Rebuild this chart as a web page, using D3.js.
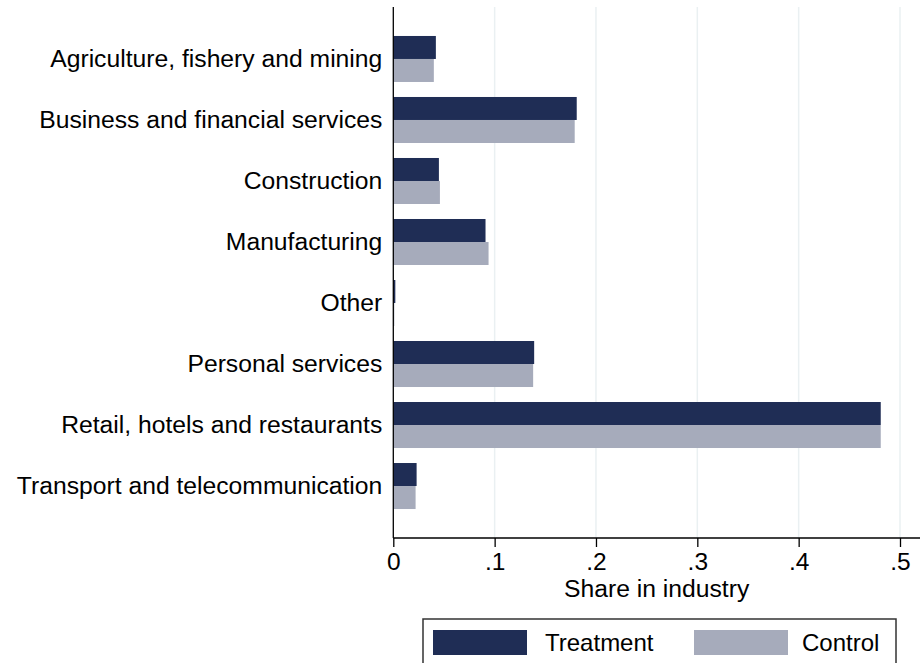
<!DOCTYPE html>
<html>
<head>
<meta charset="utf-8">
<script src="https://cdn.jsdelivr.net/npm/d3@7"></script>
<style>
  body { margin: 0; background: #fff; }
  svg { display: block; font-family: "Liberation Sans", Arial, sans-serif; }
</style>
</head>
<body>
<div id="chart"></div>
<script>
/* Daten */
var categories = ["Agriculture, fishery and mining", "Business and financial services", "Construction",
  "Manufacturing", "Other", "Personal services", "Retail, hotels and restaurants", "Transport and telecommunication"];
var seriesNames = ["Treatment", "Control"];
var treatment = [0.042, 0.181, 0.045, 0.091, 0.002, 0.139, 0.481, 0.023];
var control   = [0.040, 0.179, 0.046, 0.094, 0.001, 0.138, 0.481, 0.022];
var xTicks = [0, 0.1, 0.2, 0.3, 0.4, 0.5];

var colors = {"Treatment": "#1f2d55", "Control": "#a6abbb"};
var width = 920, height = 663;
var plot = {left: 393.3, right: 920, top: 7, bottom: 538};

var svg = d3.select("#chart").append("svg").attr("width", width).attr("height", height);
svg.append("rect").attr("width", width).attr("height", height).attr("fill", "#fff");

var x = d3.scaleLinear().domain([0, 0.5]).range([plot.left, 900]);
var y = d3.scaleBand().domain(categories).range([plot.top, plot.bottom]).paddingInner(15 / 61).paddingOuter(0.475);
var ySub = d3.scaleBand().domain(seriesNames).range([0, y.bandwidth()]);

/* Gitterlinien */
svg.append("g").selectAll("line").data(xTicks.slice(1)).enter().append("line")
  .attr("x1", function(d) { return x(d); }).attr("x2", function(d) { return x(d); })
  .attr("y1", plot.top).attr("y2", plot.bottom)
  .attr("stroke", "#eaf0f2").attr("stroke-width", 1.5);

/* Balken */
var rows = categories.map(function(c, i) { return {cat: c, Treatment: treatment[i], Control: control[i]}; });
var groups = svg.append("g").selectAll("g").data(rows).enter().append("g")
  .attr("transform", function(d) { return "translate(0," + y(d.cat) + ")"; });
groups.selectAll("rect").data(function(d) { return seriesNames.map(function(s) { return {s: s, v: d[s]}; }); })
  .enter().append("rect")
  .attr("x", x(0))
  .attr("y", function(d) { return ySub(d.s); })
  .attr("width", function(d) { return x(d.v) - x(0); })
  .attr("height", ySub.bandwidth())
  .attr("fill", function(d) { return colors[d.s]; });

/* Achsen */
var xAxis = d3.axisBottom(x).tickValues(xTicks).tickSize(9).tickPadding(6)
  .tickFormat(function(d) { return d === 0 ? "0" : d3.format(".1f")(d).replace(/^0/, ""); });
var gx = svg.append("g").attr("transform", "translate(0," + plot.bottom + ")").call(xAxis);
gx.select(".domain").remove();
gx.selectAll(".tick line").attr("stroke", "#000").attr("stroke-width", 1.3);
gx.selectAll(".tick text").attr("font-size", "24.5px").attr("fill", "#000").attr("font-family", "Liberation Sans, Arial, sans-serif");
svg.append("line").attr("x1", plot.left).attr("x2", plot.right).attr("y1", plot.bottom).attr("y2", plot.bottom)
  .attr("stroke", "#000").attr("stroke-width", 1.3);
svg.append("line").attr("x1", plot.left).attr("x2", plot.left).attr("y1", plot.top).attr("y2", plot.bottom)
  .attr("stroke", "#000").attr("stroke-width", 1.3);

var yAxis = d3.axisLeft(y).tickSize(0).tickPadding(11);
var gy = svg.append("g").attr("transform", "translate(" + plot.left + ",0)").call(yAxis);
gy.select(".domain").remove();
gy.selectAll(".tick text").attr("font-size", "24.7px").attr("fill", "#000").attr("font-family", "Liberation Sans, Arial, sans-serif");

svg.append("text").attr("x", (plot.left + plot.right) / 2).attr("y", 597).attr("text-anchor", "middle")
  .attr("font-size", "24.7px").attr("fill", "#000").text("Share in industry");

/* Legende */
var legend = svg.append("g");
legend.append("rect").attr("x", 423).attr("y", 619).attr("width", 473).attr("height", 80)
  .attr("fill", "#fff").attr("stroke", "#333").attr("stroke-width", 1.5);
var legItems = [{s: "Treatment", sx: 433, tx: 545}, {s: "Control", sx: 694, tx: 802}];
legItems.forEach(function(it) {
  legend.append("rect").attr("x", it.sx).attr("y", 630).attr("width", 94).attr("height", 25).attr("fill", colors[it.s]);
  legend.append("text").attr("x", it.tx).attr("y", 651).attr("font-size", "24px").attr("fill", "#000").text(it.s);
});
</script>
</body>
</html>
